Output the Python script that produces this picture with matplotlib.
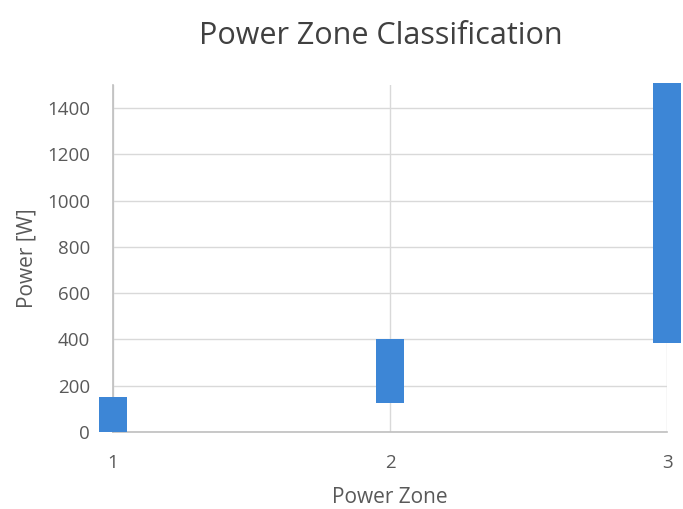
import matplotlib.pyplot as plt

# Power range covered by each zone
zones = [1, 2, 3]
zone_low = [0, 125, 385]
zone_high = [150, 402, 1510]
y_ticks = [0, 200, 400, 600, 800, 1000, 1200, 1400]

plt.rcParams['font.family'] = ['Open Sans', 'DejaVu Sans']

fig = plt.figure(figsize=(6.83, 5.09), dpi=100)
ax = fig.add_axes([0.1654, 0.1513, 0.8112, 0.6817])

heights = [h - l for h, l in zip(zone_high, zone_low)]
ax.bar(zones, heights, bottom=zone_low, width=0.1, color='#3D86D6',
       clip_on=False, zorder=3)

ax.set_xlim(1, 3)
ax.set_ylim(0, 1500)
ax.set_xticks(zones)
ax.set_yticks(y_ticks)

ax.grid(True, color='#D9D9D9', linewidth=1, zorder=0)
for side in ['top', 'right']:
    ax.spines[side].set_visible(False)
for side in ['left', 'bottom']:
    ax.spines[side].set_color('#BFBFBF')
    ax.spines[side].set_linewidth(1.2)

ax.tick_params(length=0, labelsize=13.5, labelcolor='#595959')
ax.tick_params(axis='y', pad=16.5)
ax.tick_params(axis='x', pad=15.5)

ax.set_xlabel('Power Zone', fontsize=15, color='#595959', labelpad=11)
ax.set_ylabel('Power [W]', fontsize=15, color='#595959', labelpad=7)
fig.suptitle('Power Zone Classification', fontsize=22, color='#404040',
             x=0.558, y=0.958)

fig.savefig('out.png', dpi=100)
